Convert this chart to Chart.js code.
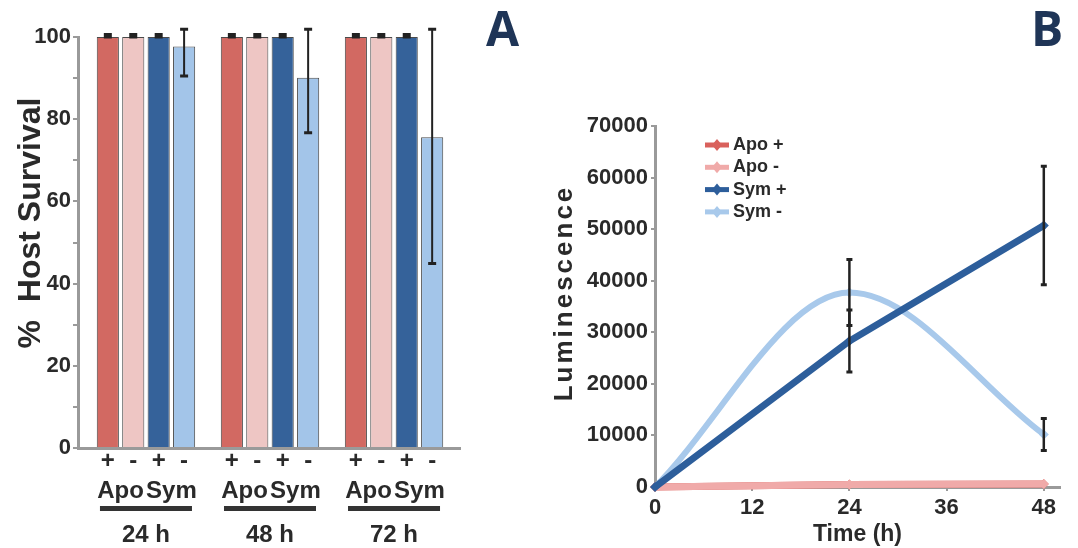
<!DOCTYPE html>
<html>
<head>
<meta charset="utf-8">
<script src="https://cdn.jsdelivr.net/npm/chart.js@4"></script>
<style>
  body { margin: 0; background: #fff; }
  #wrap { position: relative; width: 1078px; height: 548px; overflow: hidden; }
  .panel { position: absolute; top: 0; height: 548px; }
  .tag { position: absolute; top: 4px; font: 700 48px/1 'Open Sans', sans-serif; color: #1f3557; }
</style>
</head>
<body>
<div id="wrap">
  <div class="panel" style="left:0;width:540px"><canvas id="survival" width="540" height="548"></canvas></div>
  <div class="panel" style="left:540px;width:538px"><canvas id="lum" width="538" height="548"></canvas></div>
  <div class="tag" style="left:486px">A</div>
  <div class="tag" style="left:1031px">B</div>
</div>
<script>
// panel A - % host survival
const timePoints = ['24 h', '48 h', '72 h'];
const strains = ['Apo', 'Sym'];
const signs = ['+', '-', '+', '-'];
const survivalSeries = ['Apo +', 'Apo -', 'Sym +', 'Sym -'];
const apoPlus = [100, 100, 100];
const apoMinus = [100, 100, 100];
const symPlus = [100, 100, 100];
const symMinus = [97.7, 90.1, 75.6];
const tinyErr = [0.6, 0.6, 0.6];
const noErr = [0, 0, 0];
const symMinusUp = [4.2, 11.8, 26.3];
const symMinusDown = [7.2, 13.4, 30.7];

// panel B - luminescence over time
const hours = [0, 24, 48];
const lumSeries = ['Apo +', 'Apo -', 'Sym +', 'Sym -'];
const lumApoPlus = [0, 500, 600];
const lumApoMinus = [0, 500, 600];
const lumSymPlus = [0, 28300, 50700];
const lumSymMinus = [0, 37700, 10200];
const lumSymPlusErr = [0, 6000, 11500];
const lumSymMinusErr = [0, 6400, 3100];

const narrow = "'Liberation Sans Narrow', 'Liberation Sans', Arial, sans-serif";
const wide = "'Liberation Sans', Arial, sans-serif";
const ink = '#2a2a2a';
const axisGrey = '#9a9a9a';
Chart.defaults.font.family = narrow;
Chart.defaults.color = ink;

// black error bars with caps, values taken from dataset.errUp / errDown
const errorBars = {
  id: 'errorBars',
  afterDatasetsDraw(chart, args, opts) {
    const ctx = chart.ctx;
    const y = chart.scales.y;
    ctx.save();
    ctx.strokeStyle = '#222';
    chart.data.datasets.forEach((ds, i) => {
      if (!ds.errUp) return;
      chart.getDatasetMeta(i).data.forEach((el, j) => {
        const v = ds.data[j].y;
        if (!ds.errUp[j] && !ds.errDown[j]) return;
        const top = y.getPixelForValue(v + ds.errUp[j]);
        const bot = y.getPixelForValue(v - ds.errDown[j]);
        ctx.lineWidth = opts.width;
        ctx.beginPath();
        ctx.moveTo(el.x, top);
        ctx.lineTo(el.x, bot);
        ctx.stroke();
        ctx.lineWidth = opts.capWidth;
        ctx.beginPath();
        ctx.moveTo(el.x - opts.cap, top);
        ctx.lineTo(el.x + opts.cap, top);
        ctx.moveTo(el.x - opts.cap, bot);
        ctx.lineTo(el.x + opts.cap, bot);
        ctx.stroke();
      });
    });
    ctx.restore();
  }
};

// +/- , Apo/Sym, bracket bar and time under each group, plus the y title
const groupLabels = {
  id: 'groupLabels',
  afterDraw(chart) {
    const ctx = chart.ctx;
    const x = chart.scales.x;
    const metas = chart.data.datasets.map((d, i) => chart.getDatasetMeta(i));
    ctx.save();
    ctx.fillStyle = ink;
    ctx.textAlign = 'center';
    ctx.font = 'bold 24px ' + narrow;
    timePoints.forEach((t, j) => {
      const bars = metas.map(m => m.data[j]);
      ctx.textBaseline = 'middle';
      signs.forEach((s, i) => ctx.fillText(s, bars[i].x, 461));
      ctx.textBaseline = 'alphabetic';
      ctx.fillText(strains[0], (bars[0].x + bars[1].x) / 2, 498);
      ctx.fillText(strains[1], (bars[2].x + bars[3].x) / 2, 498);
      const cx = x.getPixelForValue(j);
      ctx.fillStyle = '#333';
      ctx.fillRect(cx - 46, 506, 92, 5);
      ctx.fillStyle = ink;
      ctx.fillText(t, cx, 542);
    });
    // y axis title sits a little above the axis middle in the original
    ctx.translate(31, 223);
    ctx.rotate(-Math.PI / 2);
    ctx.textBaseline = 'middle';
    ctx.font = 'bold 32px ' + wide;
    ctx.fillText('%  Host Survival', 0, 0);
    ctx.restore();
  }
};

// legend inside panel B (line sample with diamond then label) and the y title
const lumExtras = {
  id: 'lumExtras',
  afterDraw(chart, args, o) {
    const ctx = chart.ctx;
    ctx.save();
    ctx.font = 'bold 18px ' + narrow;
    ctx.textBaseline = 'middle';
    chart.data.datasets.forEach((ds, i) => {
      const y = o.y + i * o.row;
      ctx.strokeStyle = ds.borderColor;
      ctx.lineWidth = 5;
      ctx.beginPath();
      ctx.moveTo(o.x, y);
      ctx.lineTo(o.x + 24, y);
      ctx.stroke();
      ctx.fillStyle = ds.borderColor;
      ctx.beginPath();
      ctx.moveTo(o.x + 12, y - 6);
      ctx.lineTo(o.x + 17, y);
      ctx.lineTo(o.x + 12, y + 6);
      ctx.lineTo(o.x + 7, y);
      ctx.fill();
      ctx.fillStyle = ink;
      ctx.fillText(ds.label, o.x + 28, y);
    });
    ctx.translate(25, 293);
    ctx.rotate(-Math.PI / 2);
    ctx.textAlign = 'center';
    ctx.font = 'bold 26px ' + wide;
    ctx.letterSpacing = '3px';
    ctx.fillText('Luminescence', 0, 0);
    ctx.restore();
  }
};

const barColors = ['#d26962', '#eec6c4', '#35629a', '#a3c5e9'];
const survivalData = [apoPlus, apoMinus, symPlus, symMinus];
const upErr = [tinyErr, tinyErr, tinyErr, symMinusUp];
const downErr = [noErr, noErr, noErr, symMinusDown];

new Chart(document.getElementById('survival'), {
  type: 'bar',
  data: {
    datasets: survivalSeries.map((name, i) => ({
      label: name,
      data: survivalData[i].map((v, j) => ({ x: j, y: v })),
      backgroundColor: barColors[i],
      borderColor: '#4a4a4a',
      borderWidth: 1,
      categoryPercentage: 0.82,
      barPercentage: 0.87,
      errUp: upErr[i],
      errDown: downErr[i]
    }))
  },
  options: {
    responsive: false,
    animation: false,
    layout: { padding: { top: 37, right: 80, left: 0, bottom: 0 } },
    plugins: {
      legend: { display: false },
      tooltip: { enabled: false },
      errorBars: { width: 2, cap: 4, capWidth: 3 }
    },
    scales: {
      x: {
        type: 'linear',
        offset: false,
        min: -0.548,
        max: 2.532,
        grid: { display: false },
        border: { color: axisGrey, width: 3 },
        ticks: { display: false },
        afterBuildTicks: s => { s.ticks = timePoints.map((t, j) => ({ value: j })); },
        afterFit: s => { s.height = 100; }
      },
      y: {
        min: 0,
        max: 100,
        afterFit: s => { s.width = 78; },
        border: { color: axisGrey, width: 3 },
        grid: { drawOnChartArea: false, tickLength: 5, color: axisGrey, lineWidth: 2 },
        ticks: {
          stepSize: 10,
          padding: 2,
          font: { size: 22, weight: 'bold' },
          callback: v => (v % 20 === 0 ? v : '')
        }
      }
    }
  },
  plugins: [errorBars, groupLabels]
});

const lineColors = ['#d9615c', '#f0aaa9', '#2d5e9b', '#a8c9eb'];
const lumData = [lumApoPlus, lumApoMinus, lumSymPlus, lumSymMinus];
const lumErr = [null, null, lumSymPlusErr, lumSymMinusErr];
const drawOrder = [2, 1, 0, 3];
const smooth = ['default', 'default', 'default', 'monotone'];
const lineWidths = [7, 7, 7, 6];

new Chart(document.getElementById('lum'), {
  type: 'line',
  data: {
    datasets: lumSeries.map((name, i) => ({
      label: name,
      data: lumData[i].map((v, j) => ({ x: hours[j], y: v })),
      borderColor: lineColors[i],
      backgroundColor: lineColors[i],
      borderWidth: lineWidths[i],
      pointStyle: 'rectRot',
      pointRadius: 5,
      pointBorderWidth: 0,
      tension: 0,
      cubicInterpolationMode: smooth[i],
      order: drawOrder[i],
      clip: false,
      errUp: lumErr[i],
      errDown: lumErr[i]
    }))
  },
  options: {
    responsive: false,
    animation: false,
    layout: { padding: { top: 126, right: 18, left: 0, bottom: 0 } },
    plugins: {
      legend: { display: false },
      tooltip: { enabled: false },
      errorBars: { width: 2.5, cap: 3, capWidth: 3 },
      lumExtras: { x: 165, y: 145, row: 22.3 }
    },
    scales: {
      x: {
        type: 'linear',
        min: 0,
        max: 50,
        afterFit: s => { s.height = 61; },
        border: { color: axisGrey, width: 3 },
        grid: { drawOnChartArea: false, tickLength: 4, color: axisGrey, lineWidth: 2 },
        ticks: {
          stepSize: 12,
          includeBounds: false,
          padding: 4,
          font: { size: 22, weight: 'bold' }
        },
        title: {
          display: true,
          text: 'Time (h)',
          font: { size: 23, weight: 'bold' },
          padding: { top: 0, bottom: 0 }
        }
      },
      y: {
        min: 0,
        max: 70000,
        afterFit: s => { s.width = 115; },
        border: { color: axisGrey, width: 3 },
        grid: { drawOnChartArea: false, tickLength: 4, color: axisGrey, lineWidth: 2 },
        ticks: {
          stepSize: 10000,
          padding: 3,
          font: { size: 22, weight: 'bold' },
          callback: v => String(v)
        }
      }
    }
  },
  plugins: [errorBars, lumExtras]
});
</script>
</body>
</html>
